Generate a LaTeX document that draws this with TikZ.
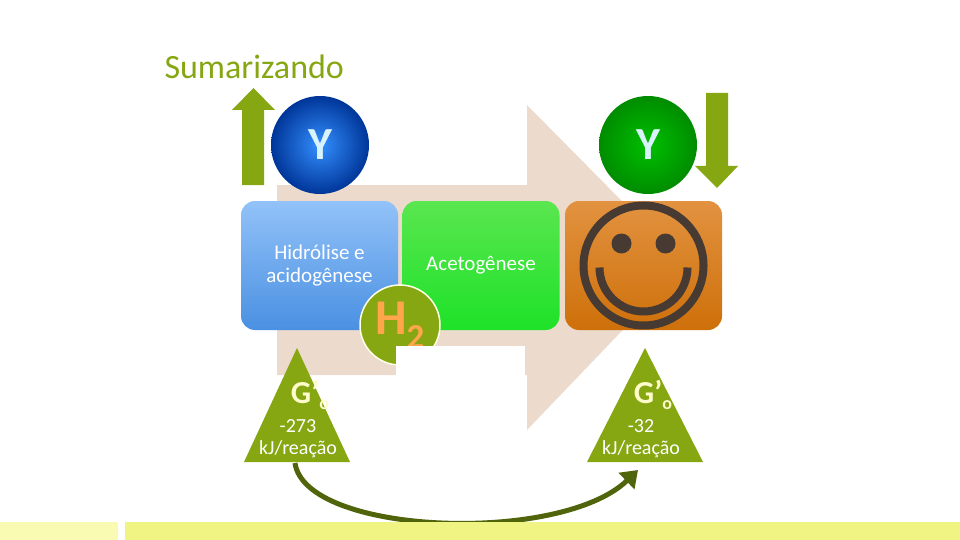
\documentclass[tikz,border=0pt]{standalone}
\usepackage{fontspec}
\setmainfont{Carlito}
\usetikzlibrary{arrows.meta,calc}
\definecolor{olive}{RGB}{134,166,18}
\definecolor{peach}{RGB}{236,218,204}
\definecolor{skyA}{RGB}{146,194,248}
\definecolor{skyB}{RGB}{74,144,226}
\definecolor{lawnA}{RGB}{90,230,80}
\definecolor{lawnB}{RGB}{30,226,40}
\definecolor{amberA}{RGB}{226,146,64}
\definecolor{amberB}{RGB}{206,112,10}
\definecolor{face}{RGB}{70,58,50}
\tikzset{
  stagebox/.style={rounded corners=14pt, minimum width=157pt, minimum height=129pt, inner sep=0pt, align=center, font=\fontsize{21}{23}\selectfont},
  ycirc/.style={circle, minimum size=98pt, inner sep=0pt, font=\fontsize{46}{46}\selectfont\bfseries},
  gtri/.style={fill=olive, draw=none},
  gtext/.style={text=white!80!yellow, font=\fontsize{32}{32}\selectfont\bfseries},
  ktext/.style={text=white, align=center, font=\fontsize{20}{22}\selectfont},
}
\begin{document}
\begin{tikzpicture}[x=1pt,y=-1pt]
  \useasboundingbox (0,0) rectangle (960,540);
  % big arrow behind
  \fill[peach] (277,185) -- (527,185) -- (527,105) -- (685,265) -- (527,430) -- (527,375) -- (277,375) -- cycle;
  % steps
  \node[stagebox, top color=skyA, bottom color=skyB, text=white] (hid) at (319.5,265.5) {Hidrólise e\\acidogênese};
  \node[stagebox, top color=lawnA, bottom color=lawnB, text=white] (ace) at (481,265.5) {Acetogênese};
  \node[stagebox, top color=amberA, bottom color=amberB] (smile) at (643.5,265.5) {};
  \draw[line width=8pt, face] (smile) circle (60pt);
  \fill[face] ($(smile)+(-22,-22)$) circle (10pt) ($(smile)+(22,-22)$) circle (10pt);
  \draw[line width=8pt, face] ($(smile)+(-44,2)$) arc[start angle=180, end angle=360, radius=44pt];
  % Y circles
  \node[ycirc, inner color=blue!55!cyan!80, outer color=blue!65!cyan!60!black, text=cyan!15!white] (y1) at (320,145) {Y};
  \node[ycirc, inner color=green!75!black, outer color=green!55!black, text=cyan!15!white] (y2) at (648,145) {Y};
  % H2
  \node[circle, fill=olive, draw=white!90!yellow, line width=1.5pt, minimum size=80pt, inner sep=0pt, text=orange!70, font=\fontsize{50}{50}\selectfont\bfseries] (h2) at (400,325) {H\textsubscript{2}};
  \fill[white] (396,346) rectangle (525,426);
  % up and down arrows
  \fill[olive] (242,185) -- (242,110) -- (232,110) -- (253.5,88) -- (275,110) -- (264,110) -- (264,185) -- cycle;
  \fill[olive] (706,93) -- (728,93) -- (728,166) -- (738,166) -- (717,188) -- (695,166) -- (706,166) -- cycle;
  % triangles
  \coordinate (t1) at (297,348);
  \coordinate (t2) at (645,348);
  \fill[gtri] (t1) -- ++(53,114) -- ++(-106,0) -- cycle;
  \fill[gtri] (t2) -- ++(58,114) -- ++(-116,0) -- cycle;
  \node[gtext] (g1) at (310,395) {G’\raisebox{-0.4ex}{\fontsize{18}{18}\selectfont o}};
  \node[ktext] (k1) at (298,439) {-273\\kJ/reação};
  \node[gtext] (g2) at (653,395) {G’\raisebox{-0.4ex}{\fontsize{18}{18}\selectfont o}};
  \node[ktext] (k2) at (641,439) {-32\\kJ/reação};
  % curved arrow
  \draw[olive!60!black, line width=5pt, -{Triangle[length=16pt,width=22pt]}] (295,463) .. controls (305,535) and (560,545) .. (638,470);
  % title and bars
  \node[anchor=west, text=olive, font=\fontsize{34}{36}\selectfont] (title) at (161,67) {Sumarizando};
  \fill[olive!15!yellow!30] (0,522) rectangle (118,540);
  \fill[yellow!50!lime!50] (125,522) rectangle (960,540);
\end{tikzpicture}
\end{document}
